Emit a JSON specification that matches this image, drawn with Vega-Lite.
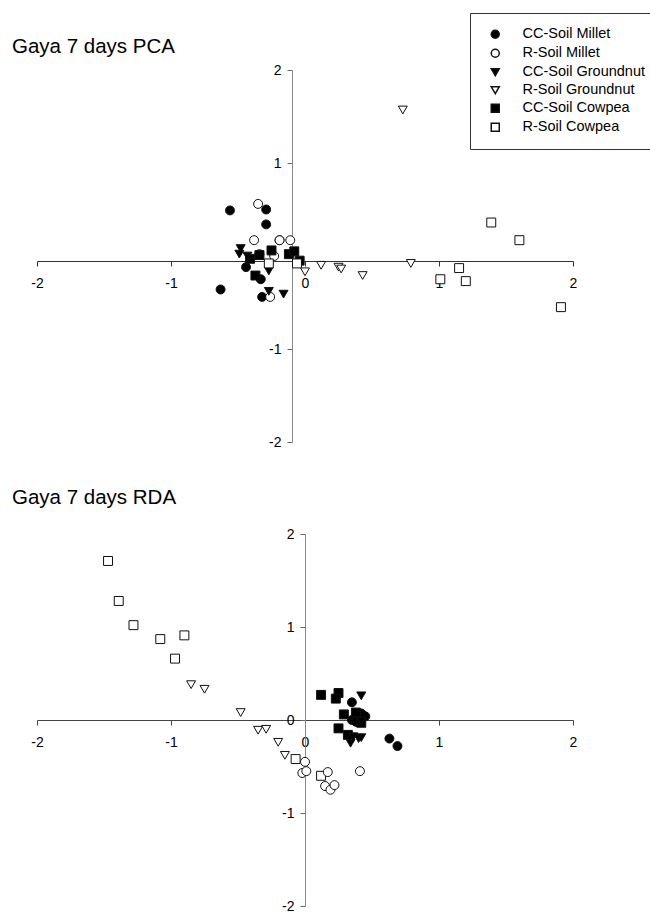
{
  "$schema": "https://vega.github.io/schema/vega-lite/v6.json",
  "padding": {"left": 12, "top": 12, "right": 0, "bottom": 0},
  "background": "white",
  "config": {
    "view": {"stroke": null},
    "font": "Liberation Sans",
    "axis": {"grid": false, "title": null, "labelFont": "Liberation Sans", "labelFontSize": 14, "labelColor": "black", "labelFlush": false, "labelOverlap": false, "tickSize": 5, "labelPadding": 6,
             "labelExpr": "datum.value < 0 ? '-' + abs(datum.value) : '' + datum.value"},
    "legend": {"title": null, "orient": "none", "legendX": 433, "legendY": -57, "padding": 14, "strokeColor": "#333", "fillColor": "white", "symbolOffset": 4, "symbolSize": 64, "labelFont": "Liberation Sans", "labelFontSize": 14.5, "labelColor": "black", "labelOffset": 20, "rowPadding": 3, "labelLimit": 300}
  },
  "datasets": {
    "pts": [
      {"analysis": "PCA", "group": "CC-Soil Millet", "x": -0.56, "y": 0.49},
      {"analysis": "PCA", "group": "CC-Soil Millet", "x": -0.29, "y": 0.50},
      {"analysis": "PCA", "group": "CC-Soil Millet", "x": -0.29, "y": 0.34},
      {"analysis": "PCA", "group": "CC-Soil Millet", "x": -0.44, "y": -0.12},
      {"analysis": "PCA", "group": "CC-Soil Millet", "x": -0.33, "y": -0.25},
      {"analysis": "PCA", "group": "CC-Soil Millet", "x": -0.63, "y": -0.36},
      {"analysis": "PCA", "group": "CC-Soil Millet", "x": -0.32, "y": -0.44},
      {"analysis": "PCA", "group": "CC-Soil Millet", "x": -0.19, "y": 0.17},
      {"analysis": "PCA", "group": "R-Soil Millet", "x": -0.35, "y": 0.56},
      {"analysis": "PCA", "group": "R-Soil Millet", "x": -0.38, "y": 0.17},
      {"analysis": "PCA", "group": "R-Soil Millet", "x": -0.19, "y": 0.17},
      {"analysis": "PCA", "group": "R-Soil Millet", "x": -0.11, "y": 0.17},
      {"analysis": "PCA", "group": "R-Soil Millet", "x": -0.23, "y": 0.00},
      {"analysis": "PCA", "group": "R-Soil Millet", "x": -0.26, "y": -0.44},
      {"analysis": "PCA", "group": "R-Soil Millet", "x": -0.34, "y": 0.02},
      {"analysis": "PCA", "group": "CC-Soil Groundnut", "x": -0.48, "y": 0.08},
      {"analysis": "PCA", "group": "CC-Soil Groundnut", "x": -0.49, "y": 0.02},
      {"analysis": "PCA", "group": "CC-Soil Groundnut", "x": -0.27, "y": -0.16},
      {"analysis": "PCA", "group": "CC-Soil Groundnut", "x": -0.27, "y": -0.38},
      {"analysis": "PCA", "group": "CC-Soil Groundnut", "x": -0.16, "y": -0.41},
      {"analysis": "PCA", "group": "CC-Soil Groundnut", "x": -0.43, "y": 0.00},
      {"analysis": "PCA", "group": "R-Soil Groundnut", "x": 0.73, "y": 1.57},
      {"analysis": "PCA", "group": "R-Soil Groundnut", "x": 0.00, "y": -0.17},
      {"analysis": "PCA", "group": "R-Soil Groundnut", "x": 0.12, "y": -0.10},
      {"analysis": "PCA", "group": "R-Soil Groundnut", "x": 0.25, "y": -0.12},
      {"analysis": "PCA", "group": "R-Soil Groundnut", "x": 0.27, "y": -0.14},
      {"analysis": "PCA", "group": "R-Soil Groundnut", "x": 0.43, "y": -0.21},
      {"analysis": "PCA", "group": "R-Soil Groundnut", "x": 0.79, "y": -0.08},
      {"analysis": "PCA", "group": "CC-Soil Cowpea", "x": -0.34, "y": 0.01},
      {"analysis": "PCA", "group": "CC-Soil Cowpea", "x": -0.25, "y": 0.06},
      {"analysis": "PCA", "group": "CC-Soil Cowpea", "x": -0.41, "y": -0.03},
      {"analysis": "PCA", "group": "CC-Soil Cowpea", "x": -0.37, "y": -0.21},
      {"analysis": "PCA", "group": "CC-Soil Cowpea", "x": -0.12, "y": 0.02},
      {"analysis": "PCA", "group": "CC-Soil Cowpea", "x": -0.08, "y": 0.05},
      {"analysis": "PCA", "group": "CC-Soil Cowpea", "x": -0.04, "y": -0.05},
      {"analysis": "PCA", "group": "R-Soil Cowpea", "x": 1.39, "y": 0.36},
      {"analysis": "PCA", "group": "R-Soil Cowpea", "x": 1.60, "y": 0.17},
      {"analysis": "PCA", "group": "R-Soil Cowpea", "x": 1.15, "y": -0.13},
      {"analysis": "PCA", "group": "R-Soil Cowpea", "x": 1.01, "y": -0.25},
      {"analysis": "PCA", "group": "R-Soil Cowpea", "x": 1.20, "y": -0.27},
      {"analysis": "PCA", "group": "R-Soil Cowpea", "x": 1.91, "y": -0.55},
      {"analysis": "PCA", "group": "R-Soil Cowpea", "x": -0.27, "y": -0.08},
      {"analysis": "PCA", "group": "R-Soil Cowpea", "x": -0.06, "y": -0.08},
      {"analysis": "RDA", "group": "R-Soil Cowpea", "x": -1.47, "y": 1.71},
      {"analysis": "RDA", "group": "R-Soil Cowpea", "x": -1.39, "y": 1.28},
      {"analysis": "RDA", "group": "R-Soil Cowpea", "x": -1.28, "y": 1.02},
      {"analysis": "RDA", "group": "R-Soil Cowpea", "x": -1.08, "y": 0.87},
      {"analysis": "RDA", "group": "R-Soil Cowpea", "x": -0.90, "y": 0.91},
      {"analysis": "RDA", "group": "R-Soil Cowpea", "x": -0.97, "y": 0.66},
      {"analysis": "RDA", "group": "R-Soil Cowpea", "x": -0.07, "y": -0.42},
      {"analysis": "RDA", "group": "R-Soil Cowpea", "x": 0.12, "y": -0.60},
      {"analysis": "RDA", "group": "R-Soil Groundnut", "x": -0.85, "y": 0.38},
      {"analysis": "RDA", "group": "R-Soil Groundnut", "x": -0.75, "y": 0.33},
      {"analysis": "RDA", "group": "R-Soil Groundnut", "x": -0.48, "y": 0.08},
      {"analysis": "RDA", "group": "R-Soil Groundnut", "x": -0.35, "y": -0.11},
      {"analysis": "RDA", "group": "R-Soil Groundnut", "x": -0.29, "y": -0.10},
      {"analysis": "RDA", "group": "R-Soil Groundnut", "x": -0.20, "y": -0.24},
      {"analysis": "RDA", "group": "R-Soil Groundnut", "x": -0.15, "y": -0.38},
      {"analysis": "RDA", "group": "R-Soil Millet", "x": 0.00, "y": -0.45},
      {"analysis": "RDA", "group": "R-Soil Millet", "x": -0.02, "y": -0.57},
      {"analysis": "RDA", "group": "R-Soil Millet", "x": 0.01, "y": -0.55},
      {"analysis": "RDA", "group": "R-Soil Millet", "x": 0.17, "y": -0.56},
      {"analysis": "RDA", "group": "R-Soil Millet", "x": 0.15, "y": -0.71},
      {"analysis": "RDA", "group": "R-Soil Millet", "x": 0.19, "y": -0.75},
      {"analysis": "RDA", "group": "R-Soil Millet", "x": 0.22, "y": -0.70},
      {"analysis": "RDA", "group": "R-Soil Millet", "x": 0.41, "y": -0.55},
      {"analysis": "RDA", "group": "CC-Soil Millet", "x": 0.35, "y": 0.19},
      {"analysis": "RDA", "group": "CC-Soil Millet", "x": 0.63, "y": -0.20},
      {"analysis": "RDA", "group": "CC-Soil Millet", "x": 0.69, "y": -0.28},
      {"analysis": "RDA", "group": "CC-Soil Millet", "x": 0.35, "y": 0.00},
      {"analysis": "RDA", "group": "CC-Soil Millet", "x": 0.42, "y": 0.07},
      {"analysis": "RDA", "group": "CC-Soil Millet", "x": 0.45, "y": 0.04},
      {"analysis": "RDA", "group": "CC-Soil Millet", "x": 0.38, "y": -0.02},
      {"analysis": "RDA", "group": "CC-Soil Cowpea", "x": 0.12, "y": 0.27},
      {"analysis": "RDA", "group": "CC-Soil Cowpea", "x": 0.25, "y": 0.29},
      {"analysis": "RDA", "group": "CC-Soil Cowpea", "x": 0.23, "y": 0.23},
      {"analysis": "RDA", "group": "CC-Soil Cowpea", "x": 0.29, "y": 0.06},
      {"analysis": "RDA", "group": "CC-Soil Cowpea", "x": 0.25, "y": -0.09},
      {"analysis": "RDA", "group": "CC-Soil Cowpea", "x": 0.32, "y": -0.16},
      {"analysis": "RDA", "group": "CC-Soil Cowpea", "x": 0.42, "y": -0.03},
      {"analysis": "RDA", "group": "CC-Soil Cowpea", "x": 0.38, "y": 0.08},
      {"analysis": "RDA", "group": "CC-Soil Groundnut", "x": 0.42, "y": 0.26},
      {"analysis": "RDA", "group": "CC-Soil Groundnut", "x": 0.34, "y": -0.25},
      {"analysis": "RDA", "group": "CC-Soil Groundnut", "x": 0.40, "y": -0.20},
      {"analysis": "RDA", "group": "CC-Soil Groundnut", "x": 0.42, "y": -0.19},
      {"analysis": "RDA", "group": "CC-Soil Groundnut", "x": 0.36, "y": -0.18},
      {"analysis": "RDA", "group": "CC-Soil Groundnut", "x": 0.42, "y": -0.01}
    ]
  },
  "spacing": 38,
  "vconcat": [
    {
      "width": 536,
      "height": 372,
      "title": {"text": "Gaya 7 days PCA", "anchor": "start", "frame": "group", "dx": -25, "fontSize": 20.5, "font": "Liberation Sans", "fontWeight": "normal", "color": "black", "offset": 6},
      "data": {"name": "pts"},
      "transform": [{"filter": "datum.analysis === 'PCA'"}],
      "mark": {"type": "point", "filled": true, "stroke": "#111", "strokeWidth": 1, "opacity": 1, "size": 80},
      "encoding": {
        "x": {"field": "x", "type": "quantitative", "scale": {"domain": [-2, 2], "nice": false, "zero": false},
              "axis": {"values": [-2, -1, 0, 1, 2], "offset": -181, "domainColor": "#333", "tickColor": "#333", "labelPadding": 10}},
        "y": {"field": "y", "type": "quantitative", "scale": {"domain": [-2, 2], "nice": false, "zero": false},
              "axis": {"values": [-2, -1, 1, 2], "offset": -255, "domainColor": "#888", "tickColor": "#666"}},
        "shape": {"field": "group", "type": "nominal",
                  "scale": {"domain": ["CC-Soil Millet", "R-Soil Millet", "CC-Soil Groundnut", "R-Soil Groundnut", "CC-Soil Cowpea", "R-Soil Cowpea"], "range": ["circle", "circle", "triangle-down", "triangle-down", "square", "square"]},
                  "legend": {"encode": {"symbols": {"update": {"stroke": {"value": "#111"}, "strokeWidth": {"value": 1}}}}}},
        "fill": {"field": "group", "type": "nominal",
                 "scale": {"domain": ["CC-Soil Millet", "R-Soil Millet", "CC-Soil Groundnut", "R-Soil Groundnut", "CC-Soil Cowpea", "R-Soil Cowpea"], "range": ["black", "white", "black", "white", "black", "white"]},
                 "legend": {"encode": {"symbols": {"update": {"stroke": {"value": "#111"}, "strokeWidth": {"value": 1}}}}}}
      }
    },
    {
      "width": 536,
      "height": 372,
      "title": {"text": "Gaya 7 days RDA", "anchor": "start", "frame": "group", "dx": -25, "fontSize": 20.5, "font": "Liberation Sans", "fontWeight": "normal", "color": "black", "offset": 19},
      "data": {"name": "pts"},
      "transform": [{"filter": "datum.analysis === 'RDA'"}],
      "mark": {"type": "point", "filled": true, "stroke": "#111", "strokeWidth": 1, "opacity": 1, "size": 80},
      "encoding": {
        "x": {"field": "x", "type": "quantitative", "scale": {"domain": [-2, 2], "nice": false, "zero": false},
              "axis": {"values": [-2, -1, 0, 1, 2], "offset": -186, "domainColor": "#444", "tickColor": "#444", "labelPadding": 10}},
        "y": {"field": "y", "type": "quantitative", "scale": {"domain": [-2, 2], "nice": false, "zero": false},
              "axis": {"values": [-2, -1, 0, 1, 2], "offset": -268, "domainColor": "#888", "tickColor": "#666"}},
        "shape": {"field": "group", "type": "nominal",
                  "scale": {"domain": ["CC-Soil Millet", "R-Soil Millet", "CC-Soil Groundnut", "R-Soil Groundnut", "CC-Soil Cowpea", "R-Soil Cowpea"], "range": ["circle", "circle", "triangle-down", "triangle-down", "square", "square"]},
                  "legend": {"encode": {"symbols": {"update": {"stroke": {"value": "#111"}, "strokeWidth": {"value": 1}}}}}},
        "fill": {"field": "group", "type": "nominal",
                 "scale": {"domain": ["CC-Soil Millet", "R-Soil Millet", "CC-Soil Groundnut", "R-Soil Groundnut", "CC-Soil Cowpea", "R-Soil Cowpea"], "range": ["black", "white", "black", "white", "black", "white"]},
                 "legend": {"encode": {"symbols": {"update": {"stroke": {"value": "#111"}, "strokeWidth": {"value": 1}}}}}}
      }
    }
  ]
}
